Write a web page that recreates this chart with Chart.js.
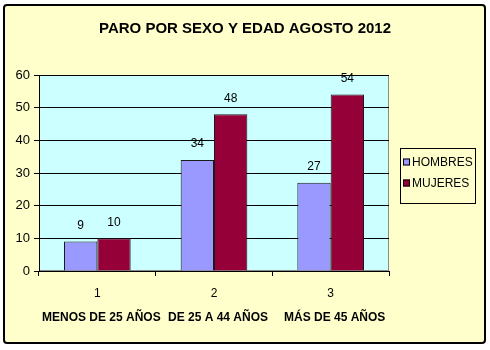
<!DOCTYPE html>
<html>
<head>
<meta charset="utf-8">
<script src="https://cdn.jsdelivr.net/npm/chart.js@4/dist/chart.umd.min.js"></script>
<style>
  html, body { margin: 0; padding: 0; background: #ffffff; }
  #c { display: block; }
</style>
</head>
<body>
<canvas id="c" width="490" height="350"></canvas>
<script>
// Unemployment by sex and age, August 2012
const categories = ['1', '2', '3'];
const ageGroups = ['MENOS DE 25 AÑOS', 'DE 25 A 44 AÑOS', 'MÁS DE 45 AÑOS'];
const seriesNames = ['HOMBRES', 'MUJERES'];
const hombres = [9, 34, 27];
const mujeres = [10, 48, 54];
const yTicks = [0, 10, 20, 30, 40, 50, 60];

const FONT = "'Liberation Sans', Arial, sans-serif";
const colors = ['#9999FF', '#960038'];

// Outer frame and plot-area background
const framePlugin = {
  id: 'frame',
  beforeDraw(chart) {
    const ctx = chart.ctx;
    const a = chart.chartArea;
    ctx.save();
    ctx.fillStyle = '#ffffff';
    ctx.fillRect(0, 0, chart.width, chart.height);
    ctx.beginPath();
    ctx.roundRect(4, 5, 481, 338, 3);
    ctx.fillStyle = '#FFFFCC';
    ctx.fill();
    ctx.lineWidth = 2;
    ctx.strokeStyle = '#000000';
    ctx.stroke();
    ctx.fillStyle = '#CCFFFF';
    ctx.fillRect(a.left, a.top, a.right - a.left, a.bottom - a.top);
    ctx.lineWidth = 1;
    ctx.strokeStyle = '#8a8a8a';
    ctx.strokeRect(a.left + 0.5, a.top + 0.5, a.right - a.left - 1, a.bottom - a.top - 1);
    ctx.restore();
  }
};

// Value labels above each bar
const valueLabels = {
  id: 'valueLabels',
  afterDatasetsDraw(chart) {
    const ctx = chart.ctx;
    ctx.save();
    ctx.font = '12px ' + FONT;
    ctx.fillStyle = '#000000';
    ctx.textAlign = 'center';
    ctx.textBaseline = 'middle';
    chart.data.datasets.forEach((ds, i) => {
      chart.getDatasetMeta(i).data.forEach((bar, j) => {
        ctx.fillText(String(ds.data[j]), bar.x, bar.y - 16);
      });
    });
    ctx.restore();
  }
};

// Boxed legend on the right
const boxLegend = {
  id: 'boxLegend',
  afterDraw(chart) {
    const ctx = chart.ctx;
    const x = 400, y = 148, w = 75, h = 55;
    ctx.save();
    ctx.fillStyle = '#FFFFCC';
    ctx.fillRect(x, y, w, h);
    ctx.lineWidth = 1;
    ctx.strokeStyle = '#000000';
    ctx.strokeRect(x + 0.5, y + 0.5, w, h);
    ctx.font = '12px ' + FONT;
    ctx.textBaseline = 'middle';
    ctx.textAlign = 'left';
    chart.data.datasets.forEach((ds, i) => {
      const cy = y + 14 + i * 21;
      ctx.fillStyle = ds.backgroundColor;
      ctx.fillRect(403, cy - 3.5, 7, 7);
      ctx.strokeStyle = '#000000';
      ctx.strokeRect(403.5, cy - 3, 6, 6);
      ctx.fillStyle = '#000000';
      ctx.fillText(ds.label, 412, cy + 0.5);
    });
    ctx.restore();
  }
};

new Chart(document.getElementById('c'), {
  type: 'bar',
  data: {
    labels: categories,
    datasets: [
      { label: seriesNames[0], data: hombres, backgroundColor: colors[0], borderColor: '#1a1a1a', borderWidth: 1 },
      { label: seriesNames[1], data: mujeres, backgroundColor: colors[1], borderColor: '#1a1a1a', borderWidth: 1 }
    ]
  },
  options: {
    responsive: false,
    animation: false,
    events: [],
    layout: { padding: { top: 10, left: 6, right: 6, bottom: 19 } },
    datasets: { bar: { categoryPercentage: 2 / 3.5, barPercentage: 1 } },
    plugins: {
      legend: { display: false },
      tooltip: { enabled: false },
      title: {
        display: true,
        text: 'PARO POR SEXO Y EDAD AGOSTO 2012',
        color: '#000000',
        font: { family: FONT, size: 15, weight: 'bold', lineHeight: 1.2 },
        padding: { top: 10, bottom: 37 }
      }
    },
    scales: {
      y: {
        min: yTicks[0],
        max: yTicks[yTicks.length - 1],
        afterBuildTicks(scale) { scale.ticks = yTicks.map(v => ({ value: v })); },
        afterFit(scale) { scale.width = 33; },
        ticks: { color: '#000000', font: { family: FONT, size: 13 }, padding: 4 },
        grid: { color: '#000000', lineWidth: 1, tickLength: 5 },
        border: { color: '#000000', width: 1 }
      },
      // empty right-hand band that holds the legend
      legendBand: {
        type: 'linear',
        position: 'right',
        display: true,
        afterFit(scale) { scale.width = 95; },
        ticks: { display: false },
        grid: { display: false, drawTicks: false },
        border: { display: false }
      },
      x: {
        type: 'category',
        labels: categories,
        offset: true,
        weight: 0,
        afterFit(scale) { scale.height = 30; },
        ticks: { color: '#000000', font: { family: FONT, size: 12 }, padding: 10, maxRotation: 0, minRotation: 0, autoSkip: false },
        grid: { offset: true, drawOnChartArea: false, color: '#000000', tickLength: 5 },
        border: { color: '#000000', width: 1 }
      },
      x2: {
        type: 'category',
        position: 'bottom',
        labels: ageGroups,
        offset: true,
        weight: 1,
        afterFit(scale) { scale.height = 30; },
        ticks: { color: '#000000', font: { family: FONT, size: 12, weight: 'bold' }, padding: 9, labelOffset: 4, maxRotation: 0, minRotation: 0, autoSkip: false },
        grid: { display: false, drawTicks: false },
        border: { display: false }
      }
    }
  },
  plugins: [framePlugin, valueLabels, boxLegend]
});
</script>
</body>
</html>
